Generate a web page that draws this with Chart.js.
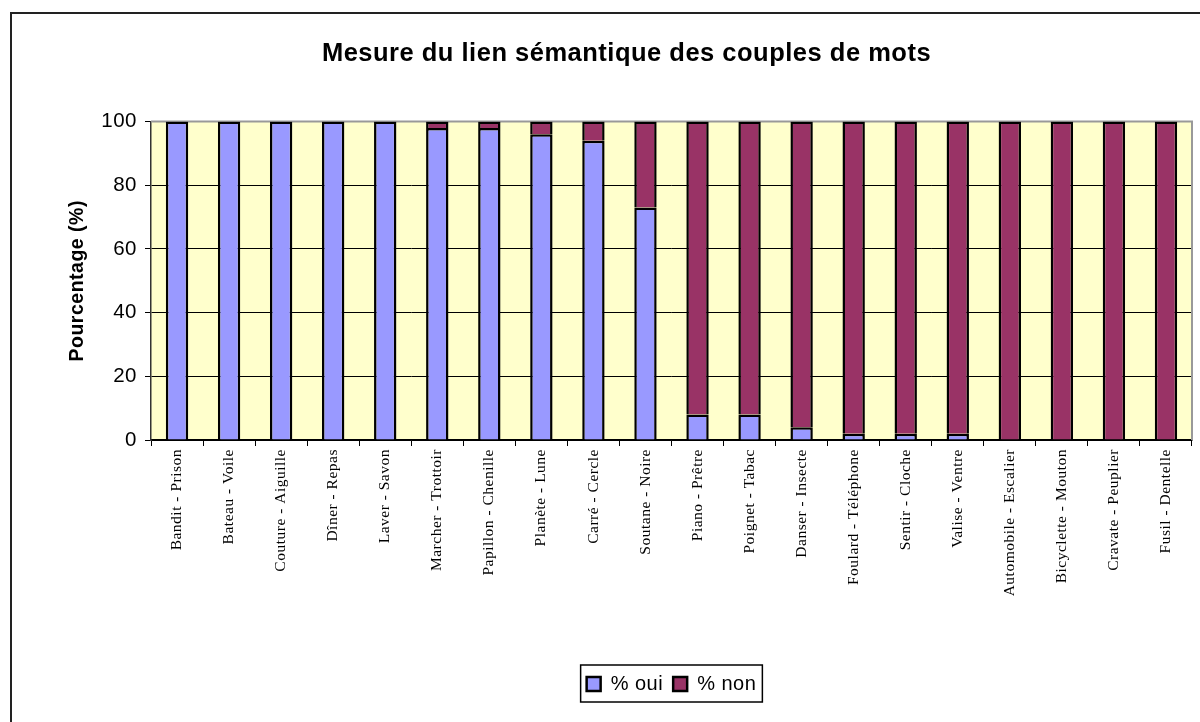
<!DOCTYPE html>
<html>
<head>
<meta charset="utf-8">
<script src="https://cdn.jsdelivr.net/npm/chart.js@4"></script>
<style>
  body { margin: 0; background: #fff; overflow: hidden; }
</style>
</head>
<body>
<canvas id="chart" width="1200" height="722"></canvas>
<script>
// categories (word pairs) and the two stacked series
const categories = [
  'Bandit - Prison', 'Bateau - Voile', 'Couture - Aiguille', 'Dîner - Repas',
  'Laver - Savon', 'Marcher - Trottoir', 'Papillon - Chenille', 'Planète - Lune',
  'Carré - Cercle', 'Soutane - Noire', 'Piano - Prêtre', 'Poignet - Tabac',
  'Danser - Insecte', 'Foulard - Téléphone', 'Sentir - Cloche', 'Valise - Ventre',
  'Automobile - Escalier', 'Bicyclette - Mouton', 'Cravate - Peuplier', 'Fusil - Dentelle'
];
const ouiValues = [100, 100, 100, 100, 100, 98, 98, 96, 94, 73, 8, 8, 4, 2, 2, 2, 0, 0, 0, 0];
const nonValues = [0, 0, 0, 0, 0, 2, 2, 4, 6, 27, 92, 92, 96, 98, 98, 98, 100, 100, 100, 100];
const yMin = 0;
const yMax = 100;
const yStep = 20;

const chartTitle = 'Mesure du lien sémantique des couples de mots';
const yTitle = 'Pourcentage (%)';
const seriesNames = ['% oui', '% non'];

document.addEventListener('DOMContentLoaded', function () {

  Chart.defaults.color = '#000';
  Chart.defaults.font.family = "'Liberation Sans', Arial, sans-serif";

  // excel-like look: frame, yellow plot area, legend box
  const excelLook = {
    id: 'excelLook',
    beforeUpdate(chart) {
      chart.ctx.letterSpacing = '0.5px';
    },
    beforeDraw(chart) {
      const c = chart.ctx;
      const a = chart.chartArea;
      c.letterSpacing = '0.5px';
      c.save();
      c.fillStyle = '#fff';
      c.fillRect(0, 0, chart.width, chart.height);
      c.strokeStyle = '#222';
      c.lineWidth = 2;
      c.beginPath();
      c.moveTo(11, chart.height);
      c.lineTo(11, 13);
      c.lineTo(chart.width, 13);
      c.stroke();
      c.fillStyle = '#FFFFCC';
      c.fillRect(a.left, a.top, a.right - a.left, a.bottom - a.top);
      c.restore();
    },
    beforeDatasetsDraw(chart) {
      const c = chart.ctx;
      const a = chart.chartArea;
      c.save();
      c.strokeStyle = '#999';
      c.lineWidth = 2;
      c.beginPath();
      c.moveTo(a.left, a.top);
      c.lineTo(a.right, a.top);
      c.lineTo(a.right, a.bottom);
      c.stroke();
      c.restore();
    },
    afterDraw(chart) {
      const boxes = chart.legend.legendHitBoxes;
      if (!boxes || !boxes.length) return;
      const first = boxes[0];
      const last = boxes[boxes.length - 1];
      const c = chart.ctx;
      c.save();
      c.strokeStyle = '#000';
      c.lineWidth = 1.5;
      c.strokeRect(first.left - 6, first.top - 9, last.left + last.width - first.left + 12, first.height + 17);
      c.restore();
    }
  };

  const ctx = document.getElementById('chart');
  const chart = new Chart(ctx, {
    type: 'bar',
    data: {
      labels: categories,
      datasets: [{
        label: seriesNames[0],
        data: ouiValues,
        backgroundColor: '#9999FF',
        borderColor: '#000',
        borderWidth: 2.5,
        borderSkipped: 'start',
        barPercentage: 0.43,
        categoryPercentage: 1
      }, {
        label: seriesNames[1],
        data: nonValues,
        backgroundColor: '#993366',
        borderColor: '#000',
        borderWidth: 2.5,
        borderSkipped: 'start',
        barPercentage: 0.43,
        categoryPercentage: 1
      }]
    },
    options: {
      responsive: false,
      animation: false,
      layout: {
        padding: { left: 61, right: 8, top: 13, bottom: 18 }
      },
      plugins: {
        title: {
          display: true,
          text: chartTitle,
          font: { size: 25.5, weight: 'bold' },
          padding: { top: 26, bottom: 52 }
        },
        legend: {
          position: 'bottom',
          fullSize: false,
          labels: {
            boxWidth: 14,
            boxHeight: 14,
            padding: 10,
            font: { size: 20 }
          }
        },
        tooltip: { enabled: false }
      },
      scales: {
        x: {
          stacked: true,
          grid: {
            offset: true,
            drawOnChartArea: false,
            drawTicks: true,
            tickLength: 6,
            color: '#000'
          },
          border: { color: '#000', width: 1.5 },
          ticks: {
            autoSkip: false,
            maxRotation: 90,
            minRotation: 90,
            padding: 3,
            font: { family: "'Liberation Serif', 'Times New Roman', serif", size: 15.5 }
          },
          afterFit(scale) {
            scale.height = 224;
          }
        },
        y: {
          stacked: true,
          min: yMin,
          max: yMax,
          ticks: {
            stepSize: yStep,
            padding: 8,
            font: { size: 20.5 }
          },
          grid: {
            color: '#000',
            lineWidth: 1,
            tickLength: 6
          },
          border: { color: '#333', width: 1.5 },
          title: {
            display: true,
            text: yTitle,
            font: { size: 19.5, weight: 'bold' },
            padding: { top: 5, bottom: 0 }
          },
          afterFit(scale) {
            scale.width = 90;
          }
        }
      }
    },
    plugins: [excelLook]
  });

});
</script>
</body>
</html>
